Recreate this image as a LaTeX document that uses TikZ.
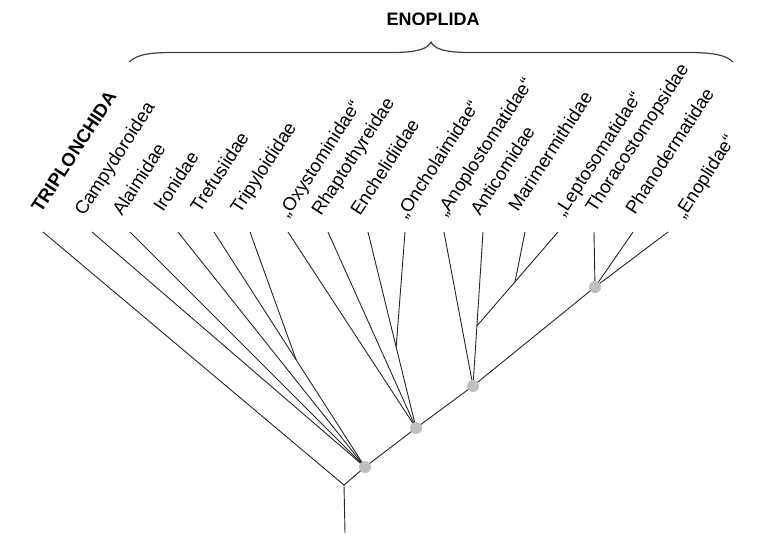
\documentclass[tikz,border=0pt]{standalone}
\usepackage{fontspec}
\setmainfont{Liberation Sans}
\usetikzlibrary{positioning, calc}

\begin{document}
\begin{tikzpicture}[
    x=1pt, y=-1pt,
    branch/.style={line width=0.9pt, draw=black!85},
    taxon/.style={anchor=base west, rotate=57, inner sep=0pt,
        font=\fontsize{18.5}{20}\selectfont},
    clade/.style={circle, fill=gray!50, draw=none, minimum size=12pt, inner sep=0pt}
]
\useasboundingbox (0,0) rectangle (776,542);

% tips along the top and their names
\foreach \n/\x/\lx/\ly/\txt in {
    1/43/41/214/{\bfseries TRIPLONCHIDA},
    2/92/84/217/Campydoroidea,
    3/130/122/217/Alaimidae,
    4/178/163/213/Ironidae,
    5/214/200/214/Trefusiidae,
    6/250/240/215/Tripyloididae,
    7/288/288/219/„Oxystominidae“,
    8/328/321/217/Rhaptothyreidae,
    9/368/360/217/Enchelidiidae,
    10/405/406/220/„Oncholaimidae“,
    11/444/446/218/„Anoplostomatidae“,
    12/483/480/217/Anticomidae,
    13/525/518/213/Marimermithidae,
    14/558/564/218/„Leptosomatidae“,
    15/594/595/214/Thoracostomopsidae,
    16/633/635/216/Phanodermatidae,
    17/668/684/220/„Enoplidae“} {
    \coordinate (t\n) at (\x,232);
    \node[taxon] (l\n) at (\lx,\ly) {\txt};
}

% inner nodes of the tree
\coordinate (base) at (345,533);
\coordinate (root) at (344,485);
\coordinate (nA) at (365,467);
\coordinate (nB) at (416,428);
\coordinate (nC) at (473,386);
\coordinate (nD) at (595,287);
\coordinate (j1) at ($(t5)!0.545!(nA)$);
\coordinate (j2) at ($(t9)!0.587!(nB)$);
\coordinate (j3) at ($(t12)!0.61!(nC)$);
\coordinate (j4) at ($(t14)!0.53!(j3)$);

% branches
\draw[branch] (base) -- (root) -- (t1);
\draw[branch] (root) -- (nA) -- (nB) -- (nC) -- (nD) -- (t17);
\foreach \t in {2,3,4,5} \draw[branch] (nA) -- (t\t);
\draw[branch] (j1) -- (t6);
\foreach \t in {7,8,9} \draw[branch] (nB) -- (t\t);
\draw[branch] (j2) -- (t10);
\foreach \t in {11,12} \draw[branch] (nC) -- (t\t);
\draw[branch] (j3) -- (t14);
\draw[branch] (j4) -- (t13);
\foreach \t in {15,16} \draw[branch] (nD) -- (t\t);

% marked clades
\foreach \c in {nA,nB,nC,nD} \node[clade] at (\c) {};

% brace over the Enoplida
\draw[line width=1.2pt, draw=black!75]
    (129,62) .. controls (138,54) and (150,52.5) .. (175,52.5) -- (392,52.5)
    .. controls (420,52.5) and (428,48) .. (431,42)
    .. controls (434,48) and (442,52.5) .. (470,52.5) -- (688,52.5)
    .. controls (713,52.5) and (726,55) .. (733,62);
\node[anchor=base, inner sep=0pt, font=\fontsize{18}{20}\selectfont\bfseries]
    (title) at (433,25) {ENOPLIDA};

\end{tikzpicture}
\end{document}
